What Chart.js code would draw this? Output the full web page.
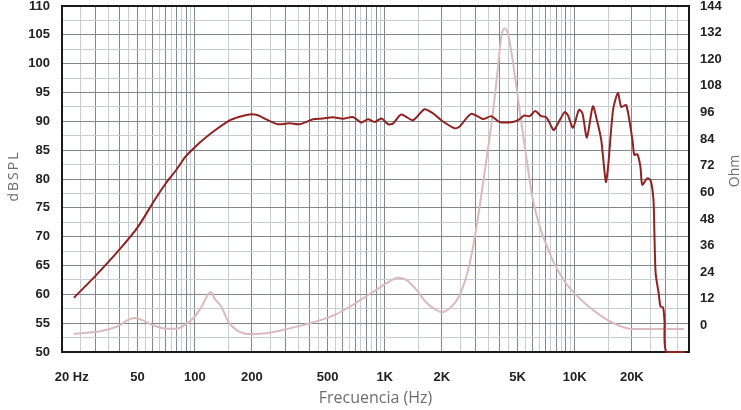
<!DOCTYPE html>
<html>
<head>
<meta charset="utf-8">
<script src="https://cdn.jsdelivr.net/npm/chart.js@4.4.1/dist/chart.umd.min.js"></script>
<style>
  html, body { margin: 0; padding: 0; background: #fff; }
  #wrap { width: 741px; height: 410px; }
</style>
</head>
<body>
<div id="wrap"><canvas id="graphic"></canvas></div>
<script>
// Respuesta en frecuencia (dBSPL)
const splFreq = [23.1, 30, 40, 50, 61.6, 70.9, 80, 90, 100, 106, 124.8, 151, 172, 195, 215, 238, 274, 316, 357,
  420, 473, 535, 604, 680, 753, 817, 886, 962, 1043, 1104, 1222, 1406, 1620, 1793, 1983, 2333, 2478, 2854,
  3290, 3640, 4020, 4730, 5130, 5430, 5800, 6200, 6660, 7100, 7740, 8040, 8850, 9200, 9800, 10540, 10990,
  11600, 12470, 13100, 13800, 14600, 15000, 15930, 16900, 17600, 18700, 20200, 20600, 21400, 22200, 22700,
  24100, 25100, 26000, 26300, 26700, 27700, 28300, 29200, 29700, 30400, 38000];
const splDb = [59.4, 63.2, 67.7, 71.6, 76.4, 79.4, 81.6, 84.0, 85.5, 86.3, 88.2, 90.1, 90.8, 91.2, 91.05, 90.35, 89.5, 89.65, 89.5,
  90.35, 90.5, 90.7, 90.45, 90.75, 89.8, 90.35, 89.9, 90.5, 89.5, 89.6, 91.2, 90.2, 92.1, 91.4, 90.2, 88.8, 89.1, 91.3,
  90.4, 90.9, 89.9, 89.9, 90.4, 91.0, 90.9, 91.8, 90.9, 90.7, 88.5, 89.2, 91.6, 91.1, 88.9, 92.0, 91.4,
  87.2, 92.6, 90.2, 86.8, 79.5, 82.1, 92.0, 94.9, 92.5, 92.8, 86.5, 84.2, 84.3, 82.1, 79.0,
  80.1, 79.8, 76.4, 70.6, 63.6, 60.2, 57.9, 57.75, 55.5, 50, 50];

// Impedancia (Ohm)
const ohmFreq = [23.1, 32.8, 38.7, 48, 60, 71, 80, 90, 100, 108.5, 121.4, 127, 138, 150, 166, 195, 230, 280,
  402, 473, 557, 654, 768, 903, 1022, 1174, 1300, 1470, 1660, 1838, 1990, 2200, 2430, 2690, 2910, 3160,
  3430, 3710, 3950, 4110, 4280, 4450, 4730, 5130, 5560, 6000, 6730, 7220, 7800, 9000, 10600, 12500,
  14700, 17300, 20000, 37600];
const ohmValue = [-3.9, -2.4, -0.6, 3.3, 0.2, -1.5, -1.5, 0.6, 3.9, 8.4, 15.0, 12.2, 8.4, 1.7, -2.1, -3.9, -3.7, -2.4,
  0.9, 2.7, 5.1, 8.4, 12.2, 16.0, 19.0, 21.5, 20.5, 16.0, 10.2, 7.3, 5.9, 7.7, 12.2, 22.0, 34.8, 53.5,
  74.6, 95.6, 116.6, 130.2, 133.9, 131.7, 118.9, 97.1, 76.1, 57.5, 41.5, 34.8, 28.0, 19.0, 12.2, 6.9,
  2.7, -0.3, -1.6, -1.6];

// Etiquetas del eje X
const xTickValues = [20, 50, 100, 200, 500, 1000, 2000, 5000, 10000, 20000];
const xTickLabels = ['20 Hz', '50', '100', '200', '500', '1K', '2K', '5K', '10K', '20K'];

const darkGrid = 'rgb(128,135,143)';
const lightGrid = 'rgb(200,205,212)';
const tickFont = { family: "'Liberation Sans', Arial, sans-serif", size: 13, weight: 'bold' };
const titleFamily = "'Open Sans', 'DejaVu Sans', sans-serif";

// Grid lines every half step in each decade
const freqTicks = [];
const majorFreqs = new Set();
[10, 100, 1000, 10000].forEach((d) => {
  for (let m = 1; m < 10; m += 0.5) {
    const v = m * d;
    if (v >= 20 && v <= 40000) {
      freqTicks.push(v);
      if (Number.isInteger(m)) majorFreqs.add(v);
    }
  }
});

const noPadding = (s) => {
  s.paddingTop = 0;
  s.paddingBottom = 0;
};

const frame = {
  id: 'frame',
  beforeDatasetsDraw(chart) {
    const { ctx, chartArea } = chart;
    ctx.save();
    ctx.strokeStyle = '#1a1a1a';
    ctx.lineWidth = 2;
    ctx.beginPath();
    ctx.moveTo(chartArea.left - 1, chartArea.top);
    ctx.lineTo(chartArea.right + 1, chartArea.top);
    ctx.stroke();
    ctx.restore();
  },
  afterDraw(chart) {
    const { ctx, chartArea } = chart;
    const x = chart.scales.x;
    ctx.save();
    // first label: "20" centred on its tick
    ctx.font = `bold ${tickFont.size}px ${tickFont.family}`;
    ctx.fillStyle = '#222';
    ctx.textBaseline = 'middle';
    ctx.textAlign = 'left';
    const x20 = x.getPixelForValue(20);
    ctx.fillText(xTickLabels[0], x20 - ctx.measureText('20').width / 2, chartArea.bottom + 25);

    // axis titles
    ctx.fillStyle = '#6e6e6e';
    ctx.textAlign = 'center';
    ctx.font = `16px ${titleFamily}`;
    ctx.fillText('Frecuencia (Hz)', (chartArea.left + chartArea.right) / 2, 398);

    ctx.font = `14px ${titleFamily}`;
    ctx.save();
    ctx.translate(14, 176);
    ctx.rotate(-Math.PI / 2);
    ctx.letterSpacing = '2px';
    ctx.fillText('dBSPL', 0, 0);
    ctx.restore();

    ctx.save();
    ctx.translate(735, 171);
    ctx.rotate(-Math.PI / 2);
    ctx.fillText('Ohm', 0, 0);
    ctx.restore();
    ctx.restore();
  }
};

const chart = new Chart(document.querySelector('#graphic'), {
  type: 'line',
  data: {
    datasets: [{
      label: 'dBSPL',
      data: splFreq.map((f, i) => ({ x: f, y: splDb[i] })),
      yAxisID: 'y',
      borderColor: 'rgb(145,34,34)',
      borderWidth: 2,
      pointRadius: 0,
      tension: 0.25,
      clip: false
    },
    {
      label: 'Ohm',
      data: ohmFreq.map((f, i) => ({ x: f, y: ohmValue[i] })),
      yAxisID: 'y2',
      borderColor: 'rgb(219,186,189)',
      borderWidth: 2,
      pointRadius: 0,
      cubicInterpolationMode: 'monotone'
    }]
  },
  options: {
    responsive: true,
    maintainAspectRatio: false,
    animation: false,
    layout: { padding: { top: 6 } },
    plugins: {
      legend: { display: false },
      tooltip: { enabled: false }
    },
    scales: {
      x: {
        type: 'logarithmic',
        min: 20,
        max: 40000,
        afterBuildTicks: (s) => { s.ticks = freqTicks.map((v) => ({ value: v })); },
        afterFit: (s) => {
          s.height = 58;
          s.paddingLeft = 0;
          s.paddingRight = 0;
        },
        grid: {
          color: (c) => (c.tick && majorFreqs.has(c.tick.value) ? darkGrid : lightGrid),
          lineWidth: 1,
          drawTicks: false
        },
        border: { color: '#1a1a1a', width: 2 },
        ticks: {
          autoSkip: false,
          maxRotation: 0,
          minRotation: 0,
          padding: 18,
          color: '#222',
          font: tickFont,
          callback: (v) => {
            const i = xTickValues.indexOf(v);
            return i > 0 ? xTickLabels[i] : '';
          }
        }
      },
      y: {
        position: 'left',
        min: 50,
        max: 110,
        afterFit: (s) => {
          s.width = 62;
          noPadding(s);
        },
        grid: {
          color: (c) => (c.tick && c.tick.value % 5 === 0 ? darkGrid : lightGrid),
          lineWidth: 1,
          drawTicks: false
        },
        border: { color: '#1a1a1a', width: 2 },
        ticks: {
          stepSize: 2.5,
          autoSkip: false,
          padding: 12,
          color: '#222',
          font: tickFont,
          callback: (v) => (v % 5 === 0 ? v : '')
        }
      },
      y2: {
        position: 'right',
        min: -12,
        max: 144,
        afterFit: (s) => {
          s.width = 52;
          noPadding(s);
        },
        grid: { display: false, drawTicks: false },
        border: { color: '#1a1a1a', width: 2 },
        ticks: {
          stepSize: 12,
          autoSkip: false,
          padding: 11,
          color: '#222',
          font: tickFont,
          callback: (v) => (v < 0 ? '' : v)
        }
      }
    }
  },
  plugins: [frame]
});
</script>
</body>
</html>
